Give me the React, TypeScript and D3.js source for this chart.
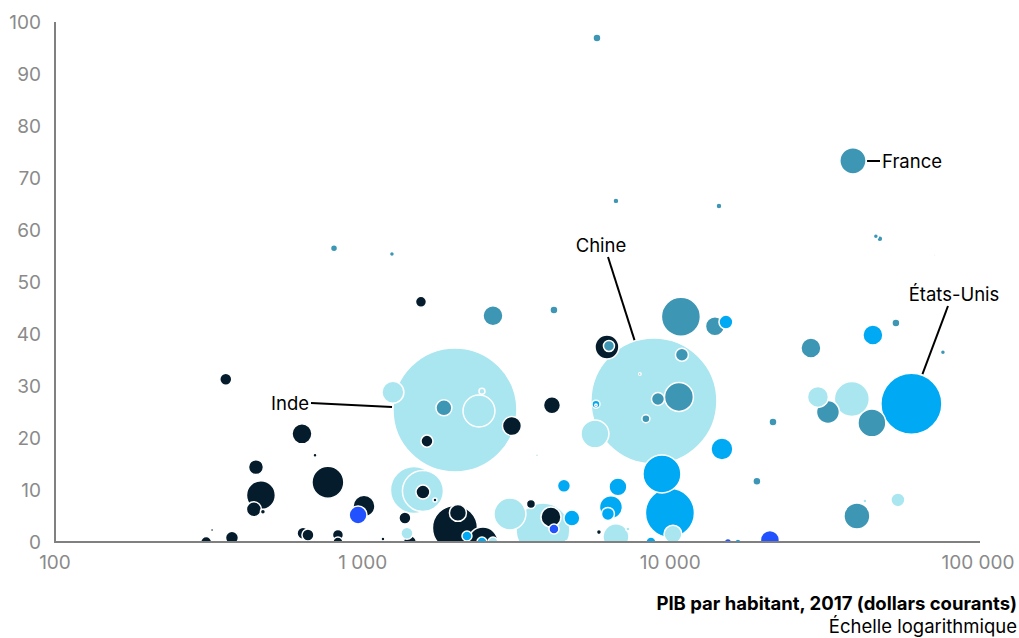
import React from 'react';
import * as d3 from 'd3';

// GDP per capita (current US$, 2017)
const gdp = [
  5775, 6656, 807, 1245, 14390, 39220, 46560, 47980, 72440, 359,
  635, 700, 771, 450, 467, 443, 474, 324, 310, 376,
  640, 664, 831, 831, 1164, 1010, 966, 1372, 1393, 1424,
  1995, 1254, 1837, 2388, 2442, 3056, 1618, 4123, 1547, 2652,
  4185, 3687, 6223, 6317, 5689, 5732, 5732, 7963, 8844, 9116,
  10665, 8328, 10906, 10823, 13964, 15160, 21560, 14716, 19115, 9391,
  9970, 10198, 6757, 6412, 6269, 6656, 5861, 7280, 8650, 15390,
  16590, 21070, 4787, 4510, 4093, 4185, 3524, 3010, 3855, 1995,
  2040, 2460, 2183, 2442, 2652, 1468, 1570, 1570, 1718, 60750,
  38900, 30180, 32530, 45200, 28640, 45540, 54100, 76910, 40410, 42890,
  54920, 4613, 5398,
];

// Vertical index value (0-100)
const score = [
  96.9, 65.6, 56.5, 55.4, 64.6, 73.3, 58.8, 58.3, 55.2, 31.3,
  20.8, 16.7, 11.5, 14.4, 9.0, 6.3, 5.8, 2.3, 0, 0.8,
  1.7, 1.35, 1.35, 0, 0.6, 6.9, 5.2, 4.6, 1.7, 0,
  25.4, 28.8, 25.8, 25.2, 29.0, 22.3, 19.4, 26.3, 46.2, 43.5,
  44.6, 16.7, 37.5, 37.7, 20.8, 26.5, 26.3, 32.3, 27.1, 27.5,
  27.9, 23.7, 36.0, 43.3, 41.5, 42.3, 23.1, 17.9, 11.7, 13.1,
  5.6, 1.5, 10.6, 6.7, 5.4, 1.0, 1.9, 2.5, 0, 0,
  0, 0.4, 4.6, 10.8, 4.8, 2.5, 7.3, 5.4, 2.3, 2.7,
  5.6, 0, 1.15, 0, 0, 10.0, 9.8, 9.6, 8.1, 26.6,
  27.5, 27.9, 25.0, 22.9, 37.3, 39.8, 42.1, 36.5, 5.0, 7.9,
  8.1, 0, 0,
];

// Population (millions)
const pop = [
  5.6, 3.1, 4.3, 2.2, 3.1, 60, 2.2, 3.1, 0.35, 12.6,
  34.9, 1.4, 89, 19.6, 73, 19.6, 2.2, 0.8, 10.6, 14.7,
  12.6, 12.6, 10.6, 8.7, 1.4, 42, 28, 12.6, 12.6, 14.7,
  1342, 42, 22.3, 89, 3.1, 31.5, 12.6, 25.2, 10.6, 34.9,
  5.6, 0.8, 50, 10.6, 68, 5.6, 0.5, 0.5, 1386, 14.7,
  73, 5.6, 14.7, 133, 31.5, 17, 5.6, 42, 5.6, 126,
  210, 28, 28, 46, 14.7, 59, 2.2, 1.4, 8.7, 4.3,
  3.1, 31.5, 22.3, 14.7, 35, 8.7, 7.1, 89, 254, 177,
  25.2, 78.5, 8.7, 8.7, 8.7, 193, 147, 17.1, 1.4, 325,
  107, 38.5, 46, 68, 35, 35, 5.6, 2.2, 59, 1.4,
  17.1, 0.8, 0.8,
];

// Region group of each bubble
const region = [
  'eur', 'eur', 'eur', 'eur', 'eur', 'eur', 'eur', 'eur', 'eur', 'afr',
  'afr', 'afr', 'afr', 'afr', 'afr', 'afr', 'afr', 'afr', 'afr', 'afr',
  'afr', 'afr', 'afr', 'afr', 'afr', 'afr', 'mena', 'afr', 'asia', 'afr',
  'asia', 'asia', 'eur', 'asia', 'asia', 'afr', 'afr', 'afr', 'afr', 'eur',
  'eur', 'asia', 'afr', 'eur', 'asia', 'amer', 'afr', 'afr', 'asia', 'eur',
  'eur', 'eur', 'eur', 'eur', 'eur', 'amer', 'eur', 'amer', 'eur', 'amer',
  'amer', 'asia', 'amer', 'amer', 'amer', 'asia', 'afr', 'asia', 'amer', 'mena',
  'amer', 'mena', 'amer', 'amer', 'afr', 'mena', 'afr', 'asia', 'asia', 'afr',
  'afr', 'afr', 'amer', 'amer', 'asia', 'asia', 'asia', 'afr', 'afr', 'amer',
  'asia', 'asia', 'eur', 'eur', 'eur', 'amer', 'eur', 'eur', 'eur', 'asia',
  'asia', 'amer', 'amer',
];

const regionKeys = ['afr', 'asia', 'eur', 'amer', 'mena'];
const regionColors = ['#051C2C', '#AAE6F0', '#3C96B4', '#00A9F4', '#2251FF'];

const xTicks = [100, 1000, 10000, 100000];
const xTickLabels = ['100', '1 000', '10 000', '100 000'];
const yTicks = [0, 10, 20, 30, 40, 50, 60, 70, 80, 90, 100];

const xTitle = 'PIB par habitant, 2017 (dollars courants)';
const xSubtitle = 'Échelle logarithmique';

// Labelled bubbles: index in data, label text, label anchor (layout)
const callouts = [
  { idx: 30, text: 'Inde', lx: 311, ly: 403, anchor: 'end', tx: 309, ty: 403 },
  { idx: 48, text: 'Chine', lx: 608, ly: 257, anchor: 'middle', tx: 601, ty: 245 },
  { idx: 89, text: 'États-Unis', lx: 948, ly: 306, anchor: 'middle', tx: 954, ty: 294 },
  { idx: 5, text: 'France', lx: 880, ly: 161, anchor: 'start', tx: 882, ty: 161 },
];

const FONT = 'Inter, "Liberation Sans", Arial, sans-serif';

export default function App() {
  const W = 1019;
  const H = 638;
  const x = d3.scaleLog().domain([100, 100000]).range([55, 978]);
  const y = d3.scaleLinear().domain([0, 100]).range([542, 22]);
  const r = d3.scaleSqrt().domain([0, 1386]).range([0, 63]);
  const color = d3.scaleOrdinal<string, string>().domain(regionKeys).range(regionColors);

  const data = gdp.map((g, i) => ({
    i,
    cx: x(g),
    cy: y(score[i]),
    r: r(pop[i]),
    fill: color(region[i]),
  }));
  const sorted = [...data].sort((a, b) => b.r - a.r);

  const axisColor = '#808080';

  return (
    <svg
      width={W}
      height={H}
      style={{ position: 'absolute', left: 0, top: 0, display: 'block', background: '#fff' }}
      fontFamily={FONT}
    >
      <defs>
        <clipPath id="plotClip">
          <rect x={0} y={0} width={W} height={542} />
        </clipPath>
      </defs>

      {/* bubbles */}
      <g clipPath="url(#plotClip)">
        {sorted.map((d) => (
          <circle
            key={d.i}
            cx={d.cx}
            cy={d.cy}
            r={Math.max(d.r, 1)}
            fill={d.fill}
            stroke="#fff"
            strokeWidth={1.5}
          />
        ))}
      </g>

      {/* axes */}
      <line x1={55} x2={55} y1={y(100)} y2={y(0)} stroke={axisColor} strokeWidth={2} />
      <line x1={54} x2={980} y1={y(0)} y2={y(0)} stroke={axisColor} strokeWidth={2} />

      {yTicks.map((t) => (
        <text
          key={t}
          x={41}
          y={y(t)}
          textAnchor="end"
          dominantBaseline="central"
          fontSize={19}
          fill="#8a8a8a"
        >
          {t}
        </text>
      ))}
      {xTicks.map((t, i) => (
        <text
          key={t}
          x={x(t)}
          y={562}
          textAnchor="middle"
          dominantBaseline="central"
          fontSize={19}
          fill="#8a8a8a"
        >
          {xTickLabels[i]}
        </text>
      ))}

      {/* callouts */}
      {callouts.map((c) => {
        const d = data[c.idx];
        const dx = c.lx - d.cx;
        const dy = c.ly - d.cy;
        const len = Math.sqrt(dx * dx + dy * dy);
        const ex = d.cx + (dx / len) * (d.r + 1);
        const ey = d.cy + (dy / len) * (d.r + 1);
        return (
          <g key={c.text}>
            <line x1={c.lx} y1={c.ly} x2={ex} y2={ey} stroke="#000" strokeWidth={2} />
            <text
              x={c.tx}
              y={c.ty}
              textAnchor={c.anchor as any}
              dominantBaseline="central"
              fontSize={18.5}
              fill="#000"
            >
              {c.text}
            </text>
          </g>
        );
      })}

      {/* axis title */}
      <text x={1017} y={610} textAnchor="end" fontSize={18.5} fontWeight={700} fill="#000">
        {xTitle}
      </text>
      <text x={1017} y={633} textAnchor="end" fontSize={18.5} fill="#000">
        {xSubtitle}
      </text>
    </svg>
  );
}
